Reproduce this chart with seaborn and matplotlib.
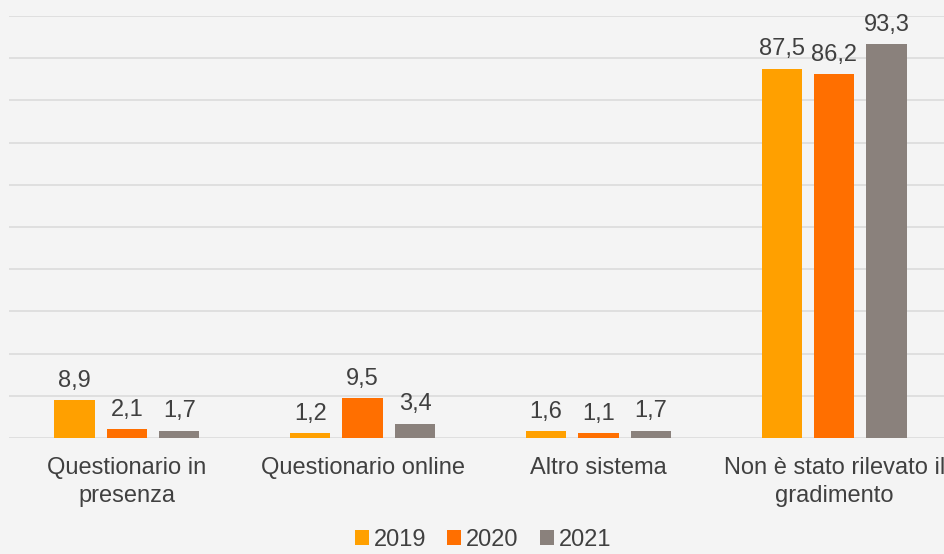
import pandas as pd
import matplotlib.pyplot as plt
import seaborn as sns

# dati
categorie = ["Questionario in\npresenza", "Questionario online", "Altro sistema",
             "Non è stato rilevato il\ngradimento"]
anni = ["2019", "2020", "2021"]
v2019 = [8.9, 1.2, 1.6, 87.5]
v2020 = [2.1, 9.5, 1.1, 86.2]
v2021 = [1.7, 3.4, 1.7, 93.3]
colori = ["#FFA000", "#FF6F00", "#8A817C"]

df = pd.DataFrame({
    "Categoria": categorie * 3,
    "Anno": [a for a in anni for _ in categorie],
    "Valore": v2019 + v2020 + v2021,
})

sns.set_style("white")
plt.rcParams["font.family"] = ["Liberation Sans", "DejaVu Sans"]
testo = "#404040"

fig = plt.figure(figsize=(9.45, 5.54), dpi=100, facecolor="#F4F4F4")
ax = fig.add_axes([9 / 945, 1 - 438 / 554, 943 / 945, 422 / 554])
ax.set_facecolor("#F4F4F4")

sns.barplot(data=df, x="Categoria", y="Valore", hue="Anno", palette=colori,
            width=0.667, gap=0.23, saturation=1, linewidth=0, edgecolor="none",
            ax=ax, legend=True)

ax.set_ylim(0, 100)
ax.set_yticks(range(0, 101, 10))
ax.yaxis.grid(True, color="#DDDDDD", linewidth=1.3)
ax.set_axisbelow(True)
ax.tick_params(axis="y", left=False, labelleft=False)
ax.tick_params(axis="x", bottom=False, labelsize=17, colors=testo, pad=10)
for t in ax.get_xticklabels():
    t.set_linespacing(1.35)
ax.set_xlabel("")
ax.set_ylabel("")
for s in ax.spines.values():
    s.set_visible(False)

# etichette con la virgola
for cont in ax.containers:
    ax.bar_label(cont, labels=[f"{v:.1f}".replace(".", ",") for v in cont.datavalues],
                 padding=6, fontsize=17, color=testo, clip_on=False)

# legenda in basso, un po' più in alto del originale per non tagliare il testo
ax.legend(loc="center", bbox_to_anchor=(474 / 943, -102 / 422), ncol=3, frameon=False,
          fontsize=17, handlelength=0.6, handleheight=0.6, handletextpad=0.2,
          columnspacing=0.9, labelcolor=testo, borderpad=0.1)

plt.savefig("out.png", dpi=100, facecolor=fig.get_facecolor())
